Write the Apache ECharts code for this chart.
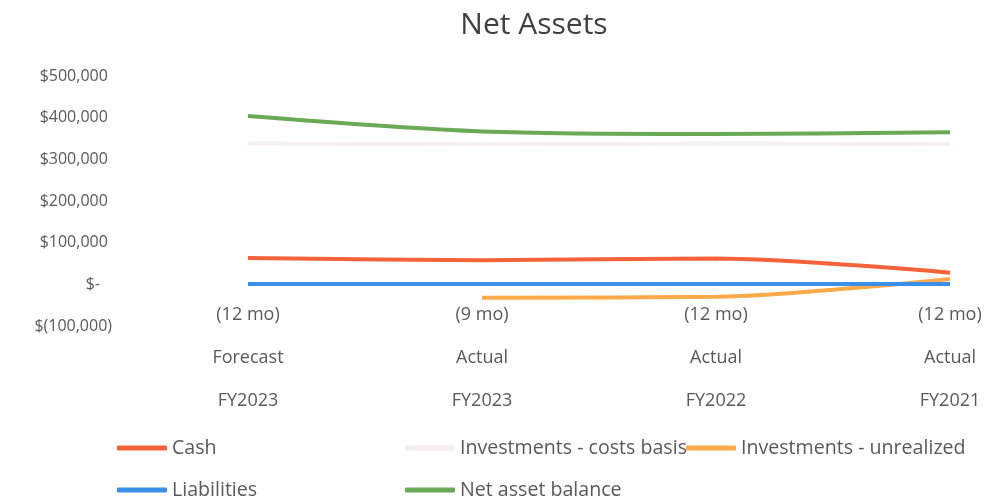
<!DOCTYPE html>
<html>
<head>
<meta charset="utf-8">
<script src="https://cdn.jsdelivr.net/npm/echarts@6/dist/echarts.min.js"></script>
<style>
  html, body { margin: 0; padding: 0; background: #fff; }
  #main { width: 986px; height: 502px; }
</style>
</head>
<body>
<div id="main"></div>
<script>
    // chart data
    var categories = ['(12 mo)\nForecast\nFY2023', '(9 mo)\nActual\nFY2023', '(12 mo)\nActual\nFY2022', '(12 mo)\nActual\nFY2021'];
    var cash = [63000, 58000, 62000, 28000];
    var invCost = [338000, 336000, 338000, 336000];
    var invUnrealized = [null, -32000, -30000, 13000];
    var liabilities = [1000, 1000, 1000, 1000];
    var netAssets = [404000, 367000, 361000, 365000];

    var font = 'Open Sans';
    var grey = '#595959';

    var myChart = echarts.init(document.getElementById('main'));

    function money(v) {
        if (v === 0) return '{z|$-}';
        var s = Math.abs(v).toLocaleString('en-US');
        return v < 0 ? '$(' + s + ')' : '$' + s + ' ';
    }

    function line(name, data, color) {
        return {
            name: name,
            type: 'line',
            data: data,
            smooth: 0.3,
            symbol: 'none',
            lineStyle: { width: 4, color: color },
            itemStyle: { color: color }
        };
    }

    // one legend per item so they sit in Excel-like columns
    function legendItem(name, left, top) {
        return {
            left: left, top: top, padding: 0,
            itemWidth: 50, itemHeight: 5, icon: 'roundRect',
            textStyle: { fontFamily: font, fontSize: 19.6, color: grey },
            data: [name]
        };
    }

    myChart.setOption({
        animation: false,
        title: {
            text: 'Net Assets',
            left: 529,
            top: 5,
            textAlign: 'center',
            textStyle: { fontFamily: font, fontSize: 30, fontWeight: 'normal', color: '#404040' }
        },
        grid: { left: 248, right: 36, top: 76, bottom: 176 },
        legend: [
            legendItem('Cash', 117, 438),
            legendItem('Investments - costs basis', 405, 438),
            legendItem('Investments - unrealized', 686, 438),
            legendItem('Liabilities', 117, 480),
            legendItem('Net asset balance', 405, 480)
        ],
        xAxis: {
            type: 'category',
            boundaryGap: false,
            data: categories,
            offset: -42, // axis sits on the $- line
            axisLine: { show: false, onZero: false },
            axisTick: { show: false },
            axisLabel: { margin: 9, fontFamily: font, fontSize: 18, color: grey, lineHeight: 43 }
        },
        yAxis: {
            type: 'value',
            min: -100000,
            max: 500000,
            interval: 100000,
            splitLine: { show: false },
            axisLine: { show: false },
            axisTick: { show: false },
            axisLabel: {
                margin: 136,
                fontFamily: font, fontSize: 16, color: grey,
                formatter: money,
                rich: { z: { fontFamily: font, fontSize: 16, color: grey, padding: [0, 12, 0, 0] } }
            }
        },
        series: [
            line('Cash', cash, '#f4623a'),
            line('Investments - costs basis', invCost, '#f5eef2'),
            line('Investments - unrealized', invUnrealized, '#fca94a'),
            line('Liabilities', liabilities, '#3a8fe8'),
            line('Net asset balance', netAssets, '#6aa955')
        ]
    });
</script>
</body>
</html>
